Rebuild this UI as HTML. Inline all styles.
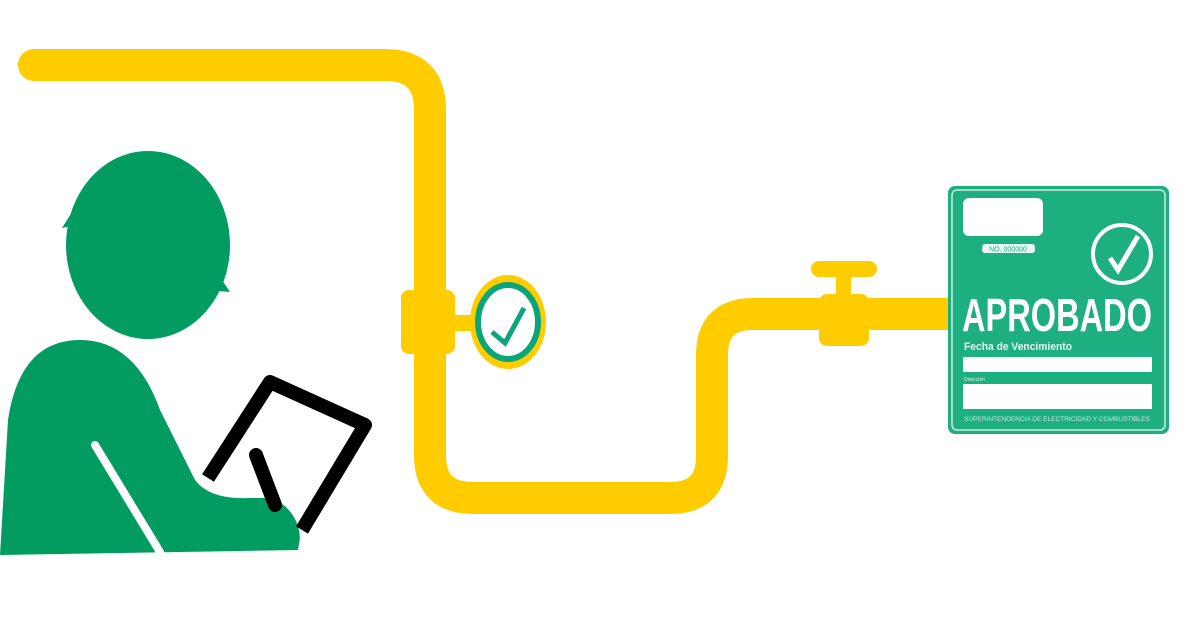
<!DOCTYPE html>
<html><head><meta charset="utf-8"><style>
html,body{margin:0;padding:0;background:#fff;}
svg{display:block}
</style></head><body>
<svg width="1200" height="628" viewBox="0 0 1200 628" xmlns="http://www.w3.org/2000/svg">
<rect width="1200" height="628" fill="#fff"/>
<!-- pipe -->
<path d="M34,65 H385 Q430,65 430,110 V455 Q430,498 473,498 H670 Q712,498 712,456 V355 Q712,314 753,314 H952" fill="none" stroke="#ffcc00" stroke-width="32" stroke-linecap="round" stroke-linejoin="round"/>
<!-- flange -->
<rect x="401" y="290" width="54" height="64" rx="8" fill="#ffcc00"/>
<rect x="450" y="315" width="30" height="16" fill="#ffcc00"/>
<!-- gauge -->
<ellipse cx="508" cy="322" rx="38" ry="47" fill="#ffcc00"/>
<ellipse cx="508" cy="322" rx="30" ry="37" fill="#fff" stroke="#0aa57a" stroke-width="6"/>
<path d="M492,332 L505,343 L524,308" fill="none" stroke="#0aa57a" stroke-width="5"/>
<!-- valve -->
<rect x="811" y="261" width="66" height="16" rx="8" fill="#ffcc00"/>
<rect x="836" y="272" width="15" height="26" fill="#ffcc00"/>
<rect x="819" y="294" width="50" height="52" rx="8" fill="#ffcc00"/>
<!-- card -->
<rect x="948" y="186" width="221" height="248" rx="7" fill="#1daf80"/>
<rect x="952" y="190" width="213" height="240" rx="5" fill="none" stroke="#cdeee2" stroke-width="1.5"/>
<rect x="963" y="198" width="80" height="38" rx="6" fill="#fff"/>
<rect x="982" y="244" width="53" height="9" rx="3" fill="#e8f7f1"/>
<text x="1008" y="251.5" font-family="Liberation Sans, sans-serif" font-size="7" fill="#1daf80" text-anchor="middle">NO. 000000</text>
<circle cx="1122" cy="254" r="29" fill="none" stroke="#fff" stroke-width="4"/>
<path d="M1110,258 L1118,270 L1138,236" fill="none" stroke="#fff" stroke-width="5"/>
<text x="1057" y="331" font-family="Liberation Sans, sans-serif" font-weight="bold" font-size="46" fill="#fff" text-anchor="middle" textLength="190" lengthAdjust="spacingAndGlyphs">APROBADO</text>
<text x="964" y="350" font-family="Liberation Sans, sans-serif" font-weight="bold" font-size="11" fill="#e6f7f0" textLength="108" lengthAdjust="spacingAndGlyphs">Fecha de Vencimiento</text>
<rect x="963" y="357" width="189" height="15" fill="#fff"/>
<text x="964" y="381" font-family="Liberation Sans, sans-serif" font-size="5" fill="#e6f7f0">Dirección</text>
<rect x="963" y="384" width="189" height="25" fill="#fff"/>
<text x="1057" y="421" font-family="Liberation Sans, sans-serif" font-size="6" fill="#bfe9d9" text-anchor="middle" textLength="186" lengthAdjust="spacingAndGlyphs">SUPERINTENDENCIA DE ELECTRICIDAD Y COMBUSTIBLES</text>
<!-- person -->
<g fill="#039c60">
<ellipse cx="148" cy="245" rx="82" ry="94"/>
<path d="M62,228 L72,212 L90,222 Z"/>
<path d="M210,262 L230,292 L205,290 Z"/>
<path d="M0,555 L8,420 Q20,340 80,340 Q135,340 160,410 L195,480 Q210,500 250,498 L272,498 Q298,510 300,538 L298,550 L0,555 Z"/>
</g>
<line x1="95" y1="445" x2="160" y2="552" stroke="#fff" stroke-width="8" stroke-linecap="round"/>
<!-- tablet -->
<path d="M208,478 L270,382 L365,425 L302,530" fill="none" stroke="#000" stroke-width="14" stroke-linejoin="round"/>
<line x1="256" y1="455" x2="275" y2="505" stroke="#000" stroke-width="14" stroke-linecap="round"/>
</svg>
</body></html>
